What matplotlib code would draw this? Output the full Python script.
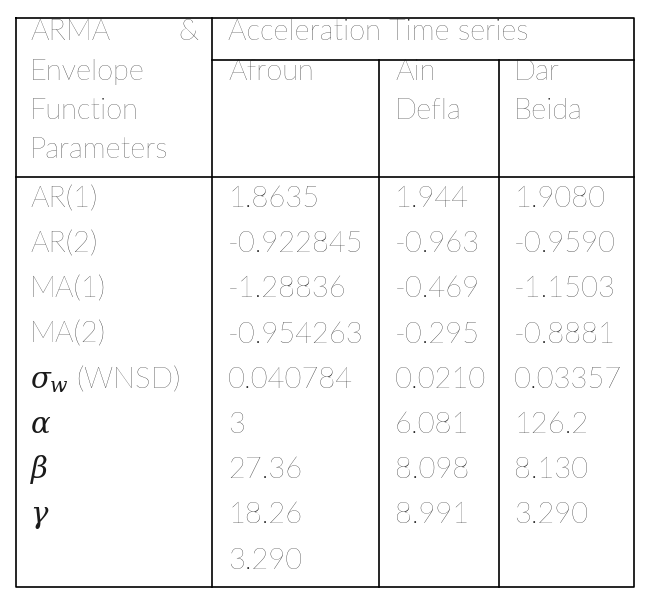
import matplotlib.pyplot as plt

# Table content
row_labels = ['AR(1)', 'AR(2)', 'MA(1)', 'MA(2)', r'$\sigma_w$ (WNSD)',
              r'$\alpha$', r'$\beta$', r'$\gamma$', '']
afroun = ['1.8635', '-0.922845', '-1.28836', '-0.954263', '0.040784',
          '3', '27.36', '18.26', '3.290']
ain_defla = ['1.944', '-0.963', '-0.469', '-0.295', '0.0210',
             '6.081', '8.098', '8.991', '']
dar_beida = ['1.9080', '-0.9590', '-1.1503', '-0.8881', '0.03357',
             '126.2', '8.130', '3.290', '']

plt.rcParams['mathtext.fontset'] = 'dejavuserif'
fig = plt.figure(figsize=(6.52, 6.06), dpi=100)
ax = fig.add_axes([0, 0, 1, 1])
ax.set_xlim(0, 652)
ax.set_ylim(606, 0)
ax.axis('off')

kw = dict(fontsize=21, family='Lato', weight='light', color='#1a1a1a', va='baseline')

# grid lines
lw = 1.2
ax.plot([16, 634, 634, 16, 16], [18, 18, 587, 587, 18], color='black', lw=lw)
ax.plot([16, 634], [177, 177], color='black', lw=lw)
ax.plot([212, 634], [60, 60], color='black', lw=lw)
ax.plot([212, 212], [18, 587], color='black', lw=lw)
for x in [379, 499]:
    ax.plot([x, x], [60, 587], color='black', lw=lw)

# header
ax.text(30, 40, 'ARMA', **kw)
ax.text(198, 40, '&', ha='right', **kw)
for i, s in enumerate(['Envelope', 'Function', 'Parameters']):
    ax.text(30, 80 + 39 * i, s, **kw)
ax.text(228, 40, 'Acceleration Time series', **kw)
ax.text(228, 80, 'Afroun', **kw)
ax.text(395, 80, 'Ain', **kw)
ax.text(395, 119, 'Defla', **kw)
ax.text(514, 80, 'Dar', **kw)
ax.text(514, 119, 'Beida', **kw)

# body
for i in range(len(row_labels)):
    y = 207 + 45.2 * i
    ax.text(30, y, row_labels[i], **kw)
    ax.text(228, y, afroun[i], **kw)
    ax.text(395, y, ain_defla[i], **kw)
    ax.text(514, y, dar_beida[i], **kw)

fig.savefig('out.png', dpi=100)
